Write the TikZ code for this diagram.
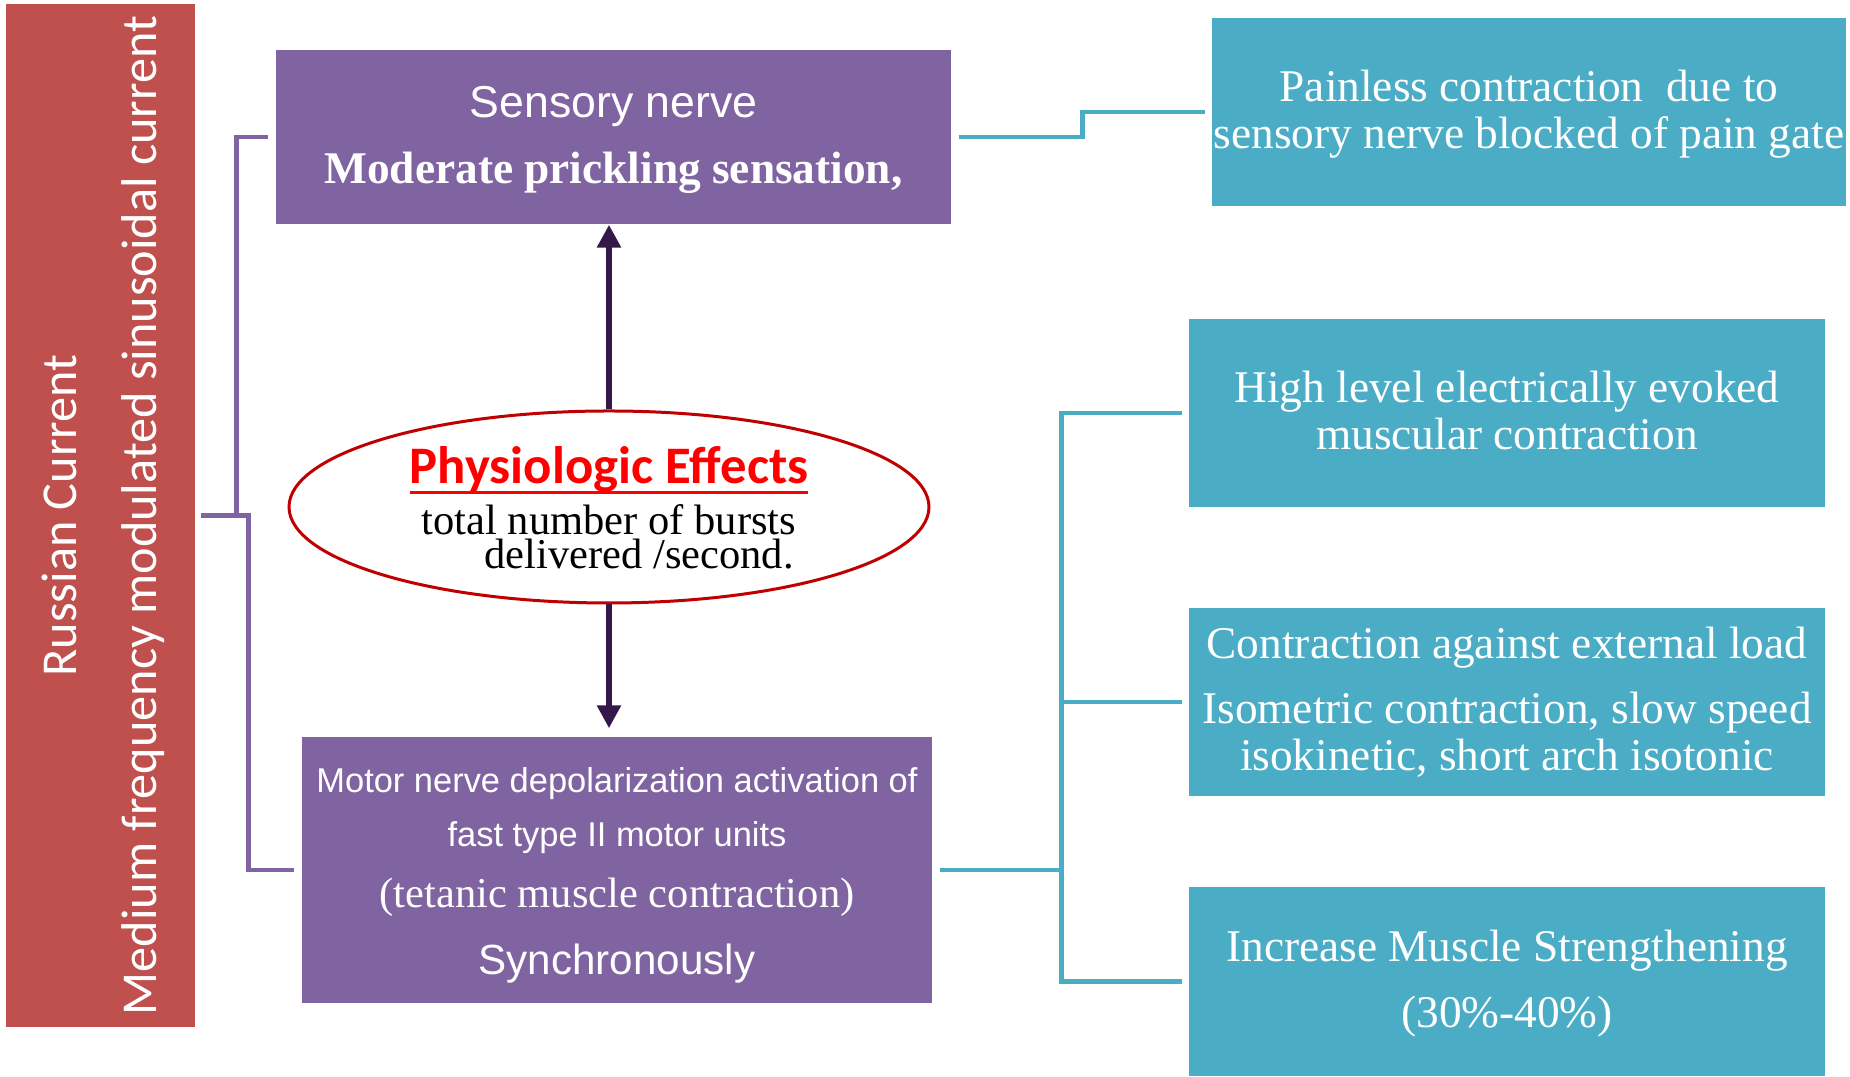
\documentclass[tikz,border=0pt]{standalone}
\usepackage{fontspec}
\setmainfont{Liberation Serif}
\setsansfont{Liberation Sans}
\newfontfamily\calibri{Carlito}
\usetikzlibrary{shapes.geometric,arrows.meta}
\newcommand{\thickul}[1]{\setbox0\hbox{#1}\rlap{\rule[-3pt]{\wd0}{0.9pt}}\box0}

\definecolor{rusred}{HTML}{C0504D}
\definecolor{nervepurple}{HTML}{8064A2}
\definecolor{effectteal}{HTML}{4BACC6}
\definecolor{arrowdark}{HTML}{36174A}
\definecolor{ovalred}{HTML}{C00000}

\tikzset{
  currentbar/.style={fill=rusred, text=white, inner sep=0pt, minimum width=18.9mm, minimum height=102.3mm},
  nervebox/.style={fill=nervepurple, text=white, inner sep=0pt, align=center},
  effectbox/.style={fill=effectteal, text=white, inner sep=0pt, align=center, minimum width=63.6mm, minimum height=18.8mm, font=\fontsize{12.9}{13.4}\selectfont},
  purpleline/.style={draw=nervepurple, line width=0.45mm},
  tealline/.style={draw=effectteal, line width=0.45mm},
  burstarrow/.style={draw=arrowdark, line width=0.6mm, -{Triangle[length=2.3mm,width=2.3mm]}}
}

\begin{document}
\begin{tikzpicture}[x=0.1mm, y=-0.1mm]
	%%%%% frame %%%%%
	\useasboundingbox (0,0) rectangle (1850,1077);
	
	\node[currentbar] (current) at (100.5,515.5) {\rotatebox{90}{\calibri\fontsize{14.3}{22.8}\selectfont
		\begin{tabular}{@{}c@{}}Russian Current\\Medium frequency modulated sinusoidal current\end{tabular}}};
	
	\node[nervebox, minimum width=67.5mm, minimum height=17.4mm, font=\sffamily\fontsize{12.7}{19}\selectfont] (sensory) at (613.5,137)
		{\rule{0pt}{3.7mm}Sensory nerve\\{\rmfamily\bfseries\fontsize{12.9}{15}\selectfont Moderate prickling sensation,}};
	
	\node[ellipse, draw=ovalred, line width=0.3mm, fill=white, minimum width=64mm, minimum height=19.2mm, inner sep=0pt, align=center, font=\fontsize{12.1}{9.6}\selectfont] (effects) at (609,507)
		{\rule{0pt}{3.8mm}{\calibri\bfseries\fontsize{15}{15}\selectfont\color{red}\smash{\thickul{Physiologic Effects}}}\\[5pt]
		total number of bursts\\\hspace*{6mm}delivered /second.};
	
	\node[nervebox, minimum width=63mm, minimum height=26.6mm, font=\sffamily\fontsize{9.8}{15.4}\selectfont] (motor) at (617,870)
		{\rule{0pt}{3.6mm}Motor nerve depolarization activation of\\fast type II motor units\\[2pt]
		{\rmfamily\fontsize{12.1}{14}\selectfont (tetanic muscle contraction)}\\[3.6pt]
		{\fontsize{12}{14}\selectfont Synchronously}};
	
	\node[effectbox, minimum width=63.4mm] (painless) at (1529,112)
		{\rule{0pt}{3.6mm}Painless contraction\ \ due to\\sensory nerve blocked of pain gate};
	\node[effectbox] (evoked) at (1507,413)
		{High level electrically evoked\\muscular contraction\rule[-0.5mm]{0pt}{1mm}};
	\node[effectbox] (load) at (1507,702)
		{Contraction against external load\\[5.1pt]Isometric contraction, slow speed\\isokinetic, short arch isotonic};
	\node[effectbox, minimum height=18.9mm] (strength) at (1507,981.5)
		{\rule{0pt}{3.6mm}Increase Muscle Strengthening\\[5.4pt](30\%-40\%)};
	
	%%%%% connectors %%%%%
	\draw[burstarrow] (effects.north) -- (effects.north |- sensory.south);
	\draw[burstarrow] (effects.south) -- ([yshift=0.8mm]effects.south |- motor.north);
	
	\coordinate (purplejoin) at ([xshift=5.3mm]current.east);
	\draw[purpleline] ([xshift=0.5mm]current.east) -- (purplejoin) |- ([xshift=-0.7mm]motor.west);
	\draw[purpleline] ([xshift=-1.2mm]purplejoin) |- ([xshift=-0.7mm]sensory.west);
	
	\draw[tealline] ([xshift=0.7mm]sensory.east) -- ([xshift=13.1mm]sensory.east) |- ([xshift=-0.6mm]painless.west);
	
	\coordinate (tealjoin) at ([xshift=12.9mm]motor.east);
	\draw[tealline] ([xshift=0.7mm]motor.east) -- (tealjoin);
	\draw[tealline] ([xshift=-0.6mm]evoked.west) -| (tealjoin |- strength.west) -- ([xshift=-0.6mm]strength.west);
	\draw[tealline] (tealjoin |- load.west) -- ([xshift=-0.6mm]load.west);
\end{tikzpicture}
\end{document}
